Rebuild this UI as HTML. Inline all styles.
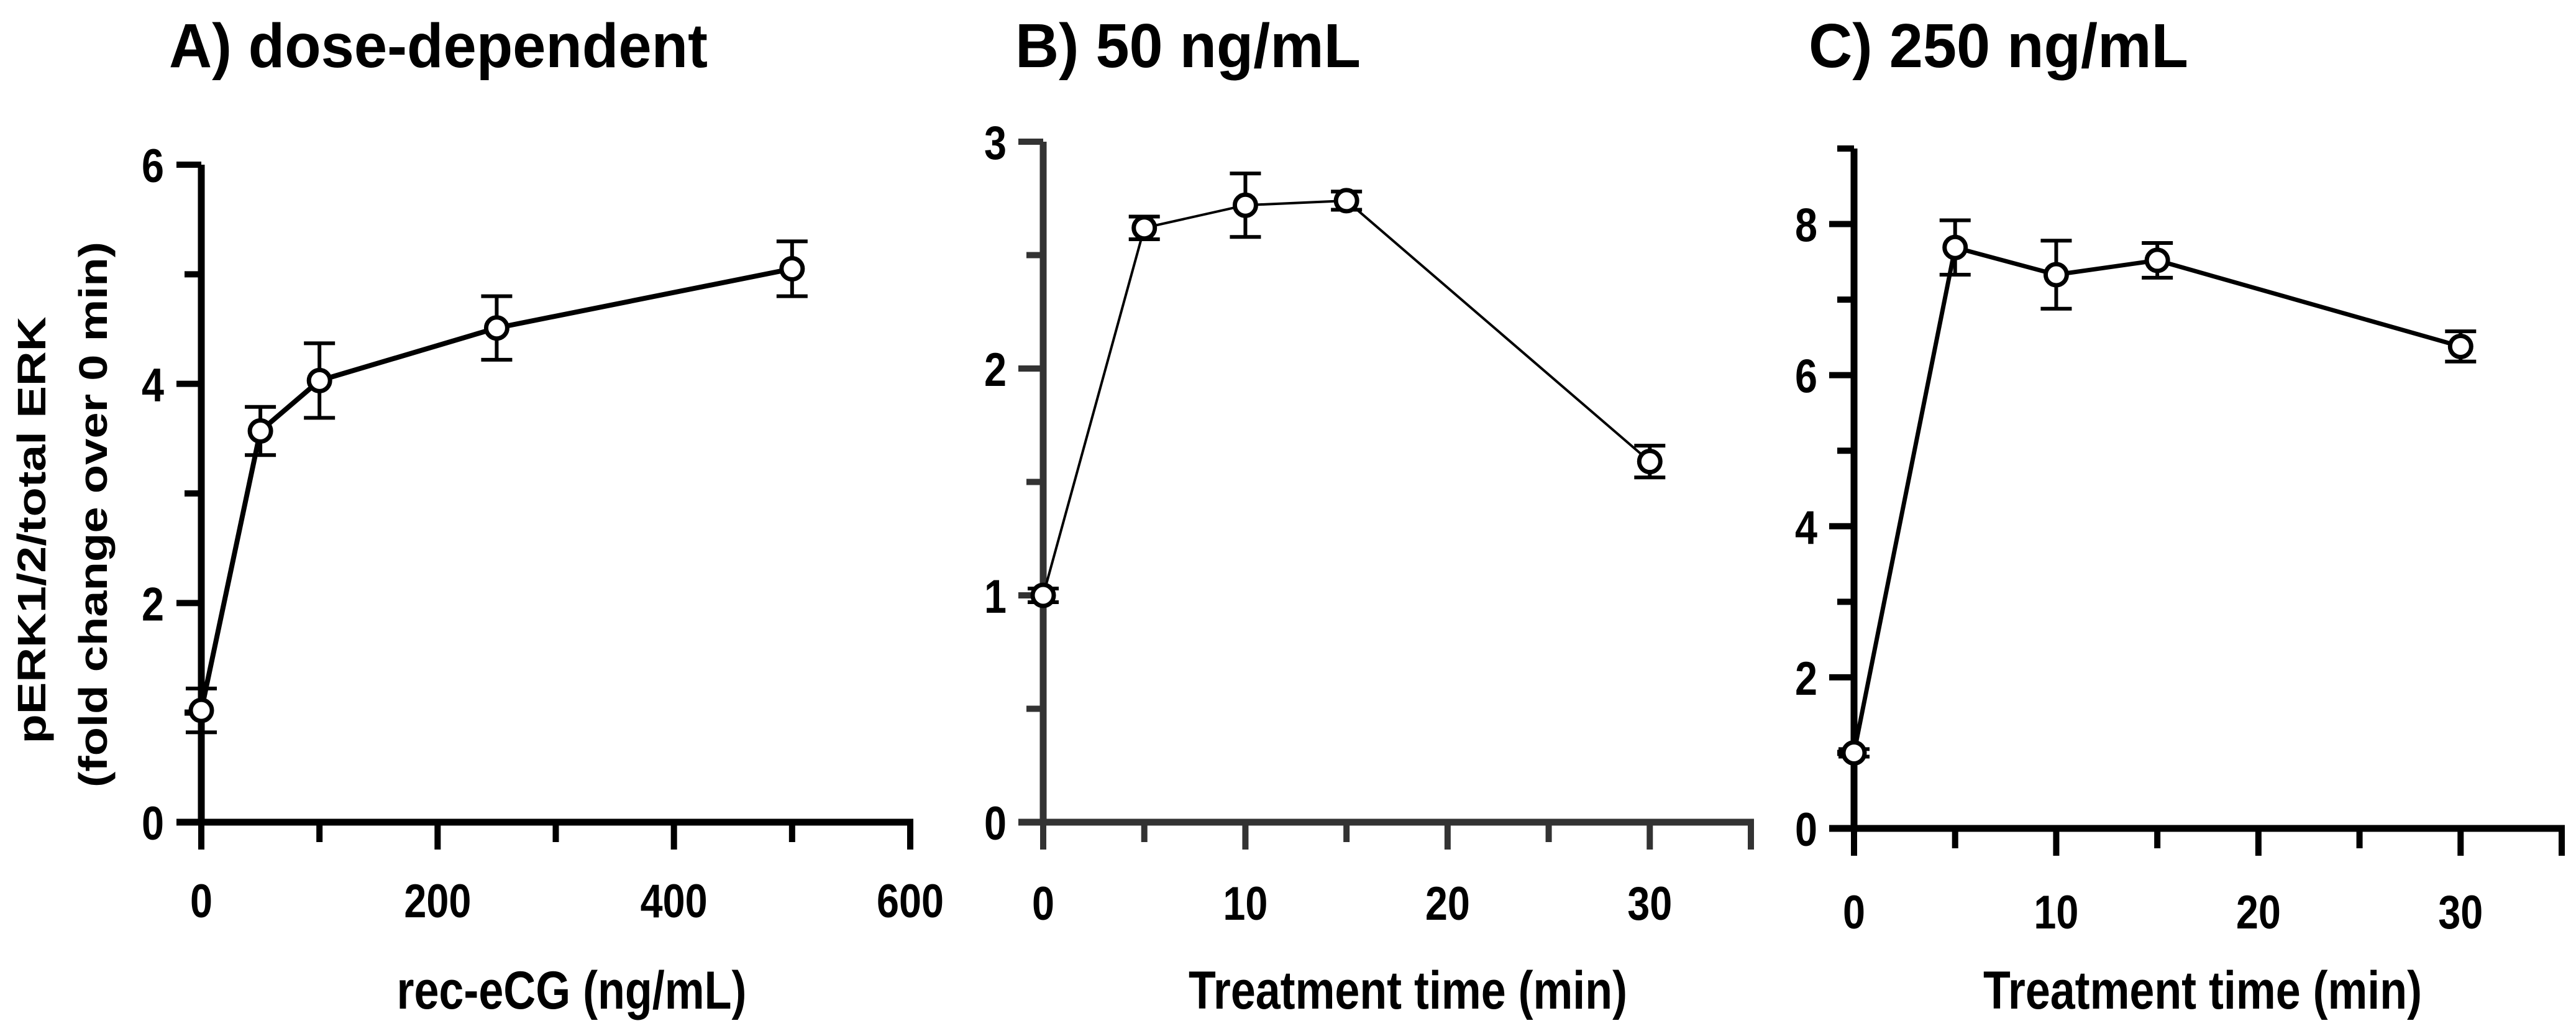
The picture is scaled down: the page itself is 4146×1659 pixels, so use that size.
<!DOCTYPE html>
<html><head><meta charset="utf-8">
<style>
html,body{margin:0;padding:0;background:#fff;}
svg{display:block;}
text{font-family:"Liberation Sans",Arial,sans-serif;font-weight:bold;fill:#000;}
</style></head>
<body>
<svg id="fig" width="4146" height="1659" viewBox="0 0 4146 1659" xmlns="http://www.w3.org/2000/svg">
  <text x="272" y="108" font-size="100" textLength="867" lengthAdjust="spacingAndGlyphs">A) dose-dependent</text>
  <text x="1634" y="108" font-size="100" textLength="556" lengthAdjust="spacingAndGlyphs">B) 50 ng/mL</text>
  <text x="2911" y="108" font-size="100" textLength="611" lengthAdjust="spacingAndGlyphs">C) 250 ng/mL</text>
  <text transform="translate(73,853) rotate(-90)" text-anchor="middle" font-size="64" textLength="687" lengthAdjust="spacingAndGlyphs">pERK1/2/total ERK</text>
  <text transform="translate(172,828) rotate(-90)" text-anchor="middle" font-size="64" textLength="878" lengthAdjust="spacingAndGlyphs">(fold change over 0 min)</text>
  <text x="920" y="1623" text-anchor="middle" font-size="86" textLength="563" lengthAdjust="spacingAndGlyphs">rec-eCG (ng/mL)</text>
  <text x="2266" y="1623" text-anchor="middle" font-size="86" textLength="706" lengthAdjust="spacingAndGlyphs">Treatment time (min)</text>
  <text x="3545" y="1623" text-anchor="middle" font-size="86" textLength="706" lengthAdjust="spacingAndGlyphs">Treatment time (min)</text>
</svg>
<script>
// Panel A data
const aDose = [0, 50, 100, 250, 500];
const aValues = [1.02, 3.57, 4.03, 4.51, 5.05];
const aErrors = [0.2, 0.22, 0.34, 0.29, 0.25];
const aXTicks = [0, 200, 400, 600];
const aYTicks = [0, 2, 4, 6];
// Panel B data
const bTime = [0, 5, 10, 15, 30];
const bValues = [1.0, 2.62, 2.72, 2.74, 1.59];
const bErrors = [0.03, 0.05, 0.14, 0.04, 0.07];
const bXTicks = [0, 10, 20, 30];
const bYTicks = [0, 1, 2, 3];
// Panel C data
const cTime = [0, 5, 10, 15, 30];
const cValues = [1.0, 7.69, 7.33, 7.52, 6.38];
const cErrors = [0.05, 0.36, 0.45, 0.23, 0.2];
const cXTicks = [0, 10, 20, 30];
const cYTicks = [0, 2, 4, 6, 8];

const NS = 'http://www.w3.org/2000/svg';
const svg = document.getElementById('fig');
function mk(tag, attrs, parent) {
  const e = document.createElementNS(NS, tag);
  for (const k in attrs) e.setAttribute(k, attrs[k]);
  (parent || svg).appendChild(e);
  return e;
}

function panel(cfg) {
  const g = mk('g', {});
  
  
  const sx = v => cfg.x0 + (v - cfg.xmin) / (cfg.xmax - cfg.xmin) * (cfg.x1 - cfg.x0);
  const sy = v => cfg.y0 - (v - cfg.ymin) / (cfg.ymax - cfg.ymin) * (cfg.y0 - cfg.y1);
  const ac = cfg.axisColor;
  const ya = mk('line', {x1: cfg.x0, y1: cfg.y0, x2: cfg.x0, y2: sy(cfg.ymax), stroke: ac, 'stroke-width': 11}, g);
  
  
  const xa = mk('line', {x1: cfg.x0 - 40, y1: cfg.y0, x2: sx(cfg.xmax) + 5, y2: cfg.y0, stroke: ac, 'stroke-width': 11}, g);
  
  
  for (let v = cfg.ymin; v <= cfg.ymax + 1e-9; v += cfg.yMinorStep) {
    const major = cfg.yTicks.some(t => Math.abs(t - v) < 1e-9);
    const t = mk('line', {x1: cfg.x0 - (major ? 40 : 27), y1: sy(v), x2: cfg.x0, y2: sy(v), stroke: ac, 'stroke-width': 10}, g);
    
    
  }
  cfg.yTicks.forEach(v => {
    const s = String(v);
    const t = mk('text', {x: cfg.yLabelRight, y: sy(v) + 28, 'text-anchor': 'end', 'font-size': 76, textLength: 36 * s.length, lengthAdjust: 'spacingAndGlyphs'}, g);
    t.textContent = s;
    
    
  });
  for (let v = cfg.xmin; v <= cfg.xmax + 1e-9; v += cfg.xMinorStep) {
    const major = cfg.xTicks.some(t => Math.abs(t - v) < 1e-9) || Math.abs(v - cfg.xmax) < 1e-9;
    const t = mk('line', {x1: sx(v), y1: cfg.y0, x2: sx(v), y2: cfg.y0 + (major ? 44 : 32), stroke: ac, 'stroke-width': 10}, g);
    
    
  }
  cfg.xTicks.forEach(v => {
    const s = String(v);
    const t = mk('text', {x: sx(v), y: cfg.xLabelY + 28, 'text-anchor': 'middle', 'font-size': 76, textLength: 36 * s.length, lengthAdjust: 'spacingAndGlyphs'}, g);
    t.textContent = s;
    
    
  });
  const pts = cfg.xs.map((x, i) => sx(x) + ',' + sy(cfg.ys[i])).join(' ');
  const pl = mk('polyline', {points: pts, fill: 'none', stroke: '#000', 'stroke-width': cfg.lw, 'stroke-linejoin': 'round'}, g);
  
  
  cfg.xs.forEach((x, i) => {
    const cx = sx(x), top = sy(cfg.ys[i] + cfg.es[i]), bot = sy(cfg.ys[i] - cfg.es[i]);
    const eg = mk('g', {stroke: '#000', 'stroke-width': 6}, g);
    
    
    mk('line', {x1: cx, y1: top, x2: cx, y2: bot}, eg);
    mk('line', {x1: cx - 25, y1: top, x2: cx + 25, y2: top}, eg);
    mk('line', {x1: cx - 25, y1: bot, x2: cx + 25, y2: bot}, eg);
  });
  cfg.xs.forEach((x, i) => {
    const c = mk('circle', {cx: sx(x), cy: sy(cfg.ys[i]), r: 17, fill: '#fff', stroke: '#000', 'stroke-width': 7}, g);
    
    
  });
}

panel({name: 'panel-a-chart', x0: 324, x1: 1465, xmin: 0, xmax: 600, y0: 1323, y1: 265, ymin: 0, ymax: 6,
  xMinorStep: 100, yMinorStep: 1, xTicks: aXTicks, yTicks: aYTicks, xs: aDose, ys: aValues, es: aErrors,
  yLabelRight: 264, xLabelY: 1448, lw: 8, axisColor: '#000'});
panel({name: 'panel-b-chart', x0: 1679, x1: 2818, xmin: 0, xmax: 35, y0: 1323, y1: 228, ymin: 0, ymax: 3,
  xMinorStep: 5, yMinorStep: 0.5, xTicks: bXTicks, yTicks: bYTicks, xs: bTime, ys: bValues, es: bErrors,
  yLabelRight: 1620, xLabelY: 1452, lw: 4, axisColor: '#333'});
panel({name: 'panel-c-chart', x0: 2984, x1: 4123, xmin: 0, xmax: 35, y0: 1333, y1: 239, ymin: 0, ymax: 9,
  xMinorStep: 5, yMinorStep: 1, xTicks: cXTicks, yTicks: cYTicks, xs: cTime, ys: cValues, es: cErrors,
  yLabelRight: 2925, xLabelY: 1466, lw: 7, axisColor: '#000'});
</script>
</body></html>
